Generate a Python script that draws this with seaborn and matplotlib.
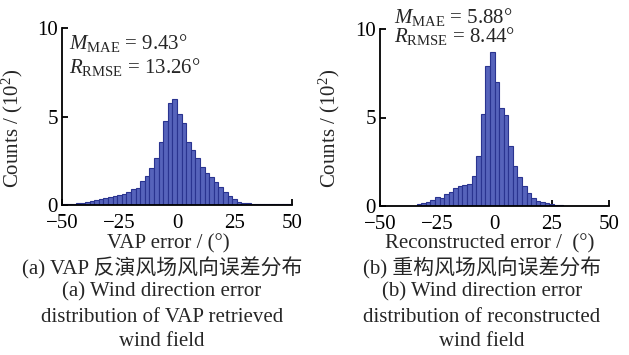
import numpy as np
import pandas as pd
import matplotlib
matplotlib.use("Agg")
import matplotlib.pyplot as plt
import seaborn as sns

# ---- data (counts in units of 10^2), bins of 2 degrees from -50 to 50 ----
bin_edges = list(range(-50, 52, 2))
vap_counts = [0.05, 0.05, 0.05, 0.09, 0.12, 0.16, 0.23, 0.26, 0.36, 0.38,
              0.48, 0.52, 0.58, 0.62, 0.74, 0.92, 0.94, 1.36, 1.62, 2.07,
              2.64, 3.58, 4.76, 5.76, 5.97, 5.15, 4.61, 3.55, 3.10, 2.67,
              2.17, 1.83, 1.60, 1.32, 1.04, 0.75, 0.51, 0.34, 0.19, 0.11,
              0.09, 0.08, 0.08, 0.06, 0.05, 0.05, 0.04, 0.03, 0.03, 0.03]
rec_counts = [0, 0, 0, 0, 0, 0, 0, 0.02, 0.11, 0.19,
              0.21, 0.34, 0.51, 0.43, 0.68, 0.77, 1.04, 1.11, 1.16, 1.23,
              1.70, 2.81, 5.21, 7.92, 8.72, 6.98, 5.53, 5.15, 3.40, 2.28,
              1.66, 1.15, 0.75, 0.45, 0.30, 0.21, 0.15, 0.13, 0.05, 0.03,
              0, 0, 0, 0, 0, 0, 0, 0, 0, 0]
x_ticks = [-50, -25, 0, 25, 50]
y_ticks = [0, 5, 10]
stats = [("M", "MAE", "9.43°", "R", "RMSE", "13.26°"),
         ("M", "MAE", "5.88°", "R", "RMSE", "8.44°")]
xlabels = ["VAP error / (°)", "Reconstructed error /  (°)"]
captions = [["(a) VAP 反演风场风向误差分布", "(a) Wind direction error",
             "distribution of VAP retrieved", "wind field"],
            ["(b) 重构风场风向误差分布", "(b) Wind direction error",
             "distribution of reconstructed", "wind field"]]

sns.set_style("ticks")
plt.rcParams["font.family"] = ["Liberation Serif", "Noto Sans CJK SC"]
plt.rcParams["mathtext.fontset"] = "custom"
plt.rcParams["mathtext.rm"] = "Liberation Serif"
plt.rcParams["mathtext.it"] = "Liberation Serif:italic"
plt.rcParams["axes.unicode_minus"] = True

W, H = 629, 355
fig = plt.figure(figsize=(W / 100, H / 100), dpi=100)
ax1 = fig.add_axes([62 / W, 1 - 205 / H, 230 / W, 177 / H])
ax2 = fig.add_axes([380 / W, 1 - 206 / H, 229 / W, 177 / H])

centers = [(a + b) / 2 for a, b in zip(bin_edges[:-1], bin_edges[1:])]
fs = 15
for ax, counts in [(ax1, vap_counts), (ax2, rec_counts)]:
    df = pd.DataFrame({"err": centers, "w": counts})
    sns.histplot(data=df, x="err", weights="w", bins=bin_edges, ax=ax,
                 color="#5663bb", edgecolor="#2a3490", linewidth=0.8,
                 alpha=1.0)
    ax.set_xlim(-50, 50)
    ax.set_ylim(0, 10)
    ax.set_xticks(x_ticks)
    ax.set_yticks(y_ticks)
    ax.tick_params(direction="in", length=4, width=1.3, labelsize=fs,
                   colors="black", pad=3)
    ax.tick_params(axis="x", pad=6.5)
    for s in ["top", "right"]:
        ax.spines[s].set_visible(False)
    for s in ["left", "bottom"]:
        ax.spines[s].set_linewidth(1.3)
        ax.spines[s].set_color("black")
    ax.set_ylabel("Counts / (10$^2$)", fontsize=fs)
    ax.set_xlabel("")

ax1.yaxis.set_label_coords(-0.161, 0.435)
ax2.yaxis.set_label_coords(-0.166, 0.44)

def ftext(x, y, s, **kw):
    fig.text(x / W, 1 - y / H, s, fontsize=fs, **kw)

# stats annotations
s = stats[0]
ftext(69, 43, rf"${s[0]}_{{\mathrm{{{s[1]}}}}}$ = {s[2]}", va="center", ha="left")
ftext(69, 67, rf"${s[3]}_{{\mathrm{{{s[4]}}}}}$ = {s[5]}", va="center", ha="left")
s = stats[1]
ftext(394, 17, rf"${s[0]}_{{\mathrm{{{s[1]}}}}}$ = {s[2]}", va="center", ha="left")
ftext(394, 36, rf"${s[3]}_{{\mathrm{{{s[4]}}}}}$ = {s[5]}", va="center", ha="left")

# x labels and captions
ftext(168, 244, xlabels[0], ha="center", va="center")
ftext(490, 244, xlabels[1], ha="center", va="center")
ys = [268, 292, 317, 341]
for cx, cap in [(162, captions[0]), (482, captions[1])]:
    for y, line in zip(ys, cap):
        ftext(cx, y, line, ha="center", va="center")

fig.savefig("out.png", dpi=100)
